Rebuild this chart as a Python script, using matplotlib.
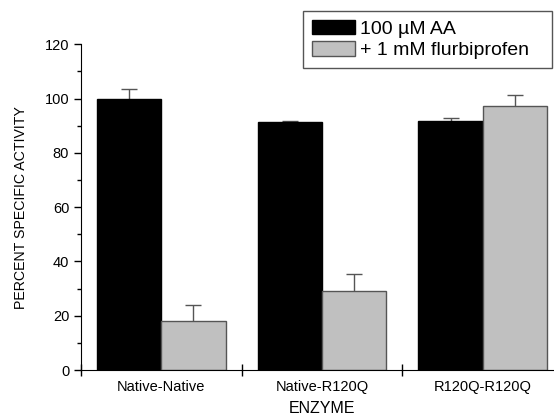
import numpy as np
import matplotlib.pyplot as plt
from matplotlib.ticker import MultipleLocator, FixedLocator

plt.rcParams['font.family'] = ['Liberation Sans', 'DejaVu Sans']

enzymes = ['Native-Native', 'Native-R120Q', 'R120Q-R120Q']
aa = [100, 91.3, 91.8]
aa_err = [3.5, 0.5, 1.0]
flurbi = [18, 29, 97.3]
flurbi_err = [6, 6.5, 4]

fig = plt.figure(figsize=(5.54, 4.16), dpi=100)
# axes extends slightly past the right edge, as in the original crop
ax = fig.add_axes([81/554, 1-370/416, (563-81)/554, (370-44.3)/416])

x = np.arange(len(enzymes)) + 0.5
w = 0.4
# error bars first so the bars hide the lower half
ax.errorbar(x - w/2, aa, yerr=aa_err, fmt='none', ecolor='#555555',
            elinewidth=1, capsize=5.5, capthick=1, zorder=1)
ax.errorbar(x + w/2, flurbi, yerr=flurbi_err, fmt='none', ecolor='#555555',
            elinewidth=1, capsize=5.5, capthick=1, zorder=1)
ax.bar(x - w/2, aa, w, color='black', edgecolor='black', linewidth=1,
       label='100 \u00b5M AA', zorder=2)
ax.bar(x + w/2, flurbi, w, color='#c0c0c0', edgecolor='#555555', linewidth=1,
       label='+ 1 mM flurbiprofen', zorder=2)

ax.set_xlim(0, 3)
ax.set_ylim(0, 120)
ax.spines['top'].set_visible(False)
ax.spines['right'].set_visible(False)
for s in ['left', 'bottom']:
    ax.spines[s].set_zorder(3)

ax.xaxis.set_major_locator(FixedLocator([0, 1, 2, 3]))
ax.xaxis.set_minor_locator(FixedLocator(x))
ax.set_xticklabels([])
ax.set_xticklabels(enzymes, minor=True, fontsize=10.5)
ax.tick_params(axis='x', which='major', direction='inout', length=8, width=1)
ax.tick_params(axis='x', which='minor', length=0, pad=7)

ax.yaxis.set_major_locator(MultipleLocator(20))
ax.yaxis.set_minor_locator(MultipleLocator(10))
ax.tick_params(axis='y', which='major', length=5, width=1, labelsize=10.5)
ax.tick_params(axis='y', which='minor', length=3, width=1)

ax.set_xlabel('ENZYME', fontsize=11.5, labelpad=5)
ax.set_ylabel('PERCENT SPECIFIC ACTIVITY', fontsize=10.2, labelpad=12)

# legend box spans x 303..552 px, top at 14 px
leg = fig.legend(loc='upper left', bbox_to_anchor=(303/554, 1-15/416, 249/554, 0.01),
                 mode='expand', fontsize=14,
                 frameon=True, fancybox=False, edgecolor='#555555', framealpha=1,
                 handlelength=2.2, handleheight=0.8, handletextpad=0.3,
                 borderpad=0.45, labelspacing=0.18, borderaxespad=0)
leg.get_frame().set_linewidth(1)

fig.savefig('out.png', dpi=100)
